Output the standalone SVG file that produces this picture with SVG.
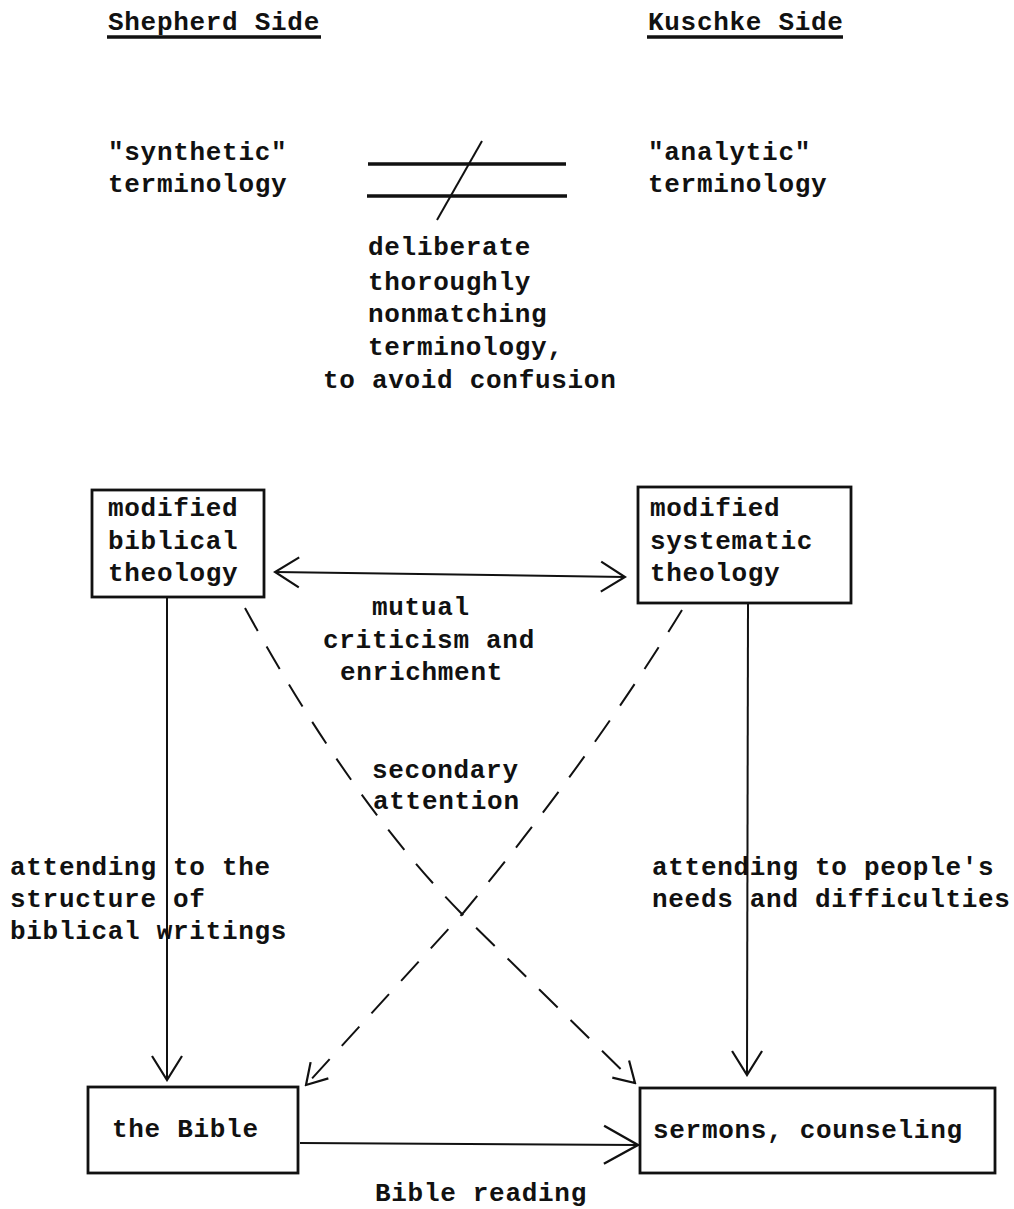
<svg xmlns="http://www.w3.org/2000/svg" width="1014" height="1209" viewBox="0 0 1014 1209">
<defs>
<style>
text{font-family:"Liberation Mono","DejaVu Sans Mono",monospace;font-size:26px;font-weight:bold;letter-spacing:0.7px;fill:#111}
.box{fill:none;stroke:#111;stroke-width:2.8}
.ln{fill:none;stroke:#111;stroke-width:2}
.dash{fill:none;stroke:#111;stroke-width:2;stroke-dasharray:26 18}
.ul{stroke:#111;stroke-width:3.5}
</style>
<marker id="vb" viewBox="0 0 28 34" refX="26" refY="17" markerWidth="28" markerHeight="34" markerUnits="userSpaceOnUse" orient="auto-start-reverse">
<path d="M2,2 L26,17 L2,32" fill="none" stroke="#111" stroke-width="2.2"/>
</marker>
<marker id="vd" viewBox="0 0 24 28" refX="22" refY="14" markerWidth="24" markerHeight="28" markerUnits="userSpaceOnUse" orient="auto">
<path d="M2,2 L22,14 L2,26" fill="none" stroke="#111" stroke-width="2.2"/>
</marker>
<marker id="vl" viewBox="0 0 38 42" refX="36" refY="21" markerWidth="38" markerHeight="42" markerUnits="userSpaceOnUse" orient="auto">
<path d="M2,2 L36,21 L2,40" fill="none" stroke="#111" stroke-width="2.4"/>
</marker>
</defs>
<rect width="1014" height="1209" fill="#fff"/>
<g id="headers">
<text x="108" y="30">Shepherd Side</text>
<line class="ul" x1="107" y1="37" x2="321" y2="37"/>
<text x="648" y="30">Kuschke Side</text>
<line class="ul" x1="647" y1="37" x2="843" y2="37"/>
</g>
<g id="synthetic">
<text x="108" y="160">"synthetic"</text>
<text x="108" y="192">terminology</text>
</g>
<g id="analytic">
<text x="648" y="160">"analytic"</text>
<text x="648" y="192">terminology</text>
</g>
<g id="notequal">
<line class="ul" x1="368" y1="164" x2="566" y2="164"/>
<line class="ul" x1="367" y1="196" x2="567" y2="196"/>
<line class="ln" x1="482" y1="141" x2="437" y2="220"/>
<text x="368" y="255">deliberate</text>
<text x="368" y="290">thoroughly</text>
<text x="368" y="322">nonmatching</text>
<text x="368" y="355">terminology,</text>
<text x="323" y="388">to avoid confusion</text>
</g>
<g id="connectors">
<line class="ln" x1="275" y1="572" x2="625" y2="577" marker-start="url(#vb)" marker-end="url(#vb)"/>
<line class="ln" x1="167" y1="598" x2="167" y2="1080" marker-end="url(#vb)"/>
<line class="ln" x1="748" y1="604" x2="747" y2="1075" marker-end="url(#vb)"/>
<path class="dash" d="M245,608 Q350,800 460,912 L635,1083" marker-end="url(#vd)"/>
<path class="dash" d="M682,610 Q590,760 464,912 L306,1085" marker-end="url(#vd)"/>
<line class="ln" x1="300" y1="1143" x2="638" y2="1145" marker-end="url(#vl)"/>
</g>
<g id="labels">
<text x="372" y="615">mutual</text>
<text x="323" y="648">criticism and</text>
<text x="340" y="680">enrichment</text>
<text x="372" y="778">secondary</text>
<text x="373" y="809">attention</text>
<text x="10" y="875">attending to the</text>
<text x="10" y="907">structure of</text>
<text x="10" y="939">biblical writings</text>
<text x="652" y="875">attending to people's</text>
<text x="652" y="907">needs and difficulties</text>
<text x="375" y="1201">Bible reading</text>
</g>
<g id="node-biblical">
<rect class="box" x="92" y="490" width="172" height="107"/>
<text x="108" y="516">modified</text>
<text x="108" y="549">biblical</text>
<text x="108" y="581">theology</text>
</g>
<g id="node-systematic">
<rect class="box" x="638" y="487" width="213" height="116"/>
<text x="650" y="516">modified</text>
<text x="650" y="549">systematic</text>
<text x="650" y="581">theology</text>
</g>
<g id="node-bible">
<rect class="box" x="88" y="1087" width="210" height="86"/>
<text x="112" y="1137">the Bible</text>
</g>
<g id="node-sermons">
<rect class="box" x="640" y="1088" width="355" height="85"/>
<text x="653" y="1138">sermons, counseling</text>
</g>
</svg>
